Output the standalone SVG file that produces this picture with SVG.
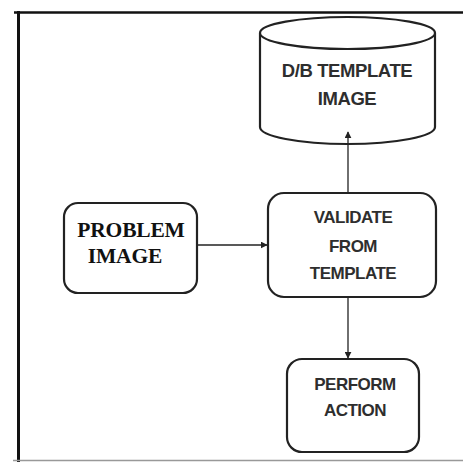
<svg xmlns="http://www.w3.org/2000/svg" width="463" height="462" viewBox="0 0 463 462">
<style>
.box{fill:#fff;stroke:#222;stroke-width:2.2}
.conn{stroke:#222;stroke-width:1.3;fill:none}
.sans{font-family:"Liberation Sans",Arial,sans-serif;font-weight:bold;font-size:17px;fill:#2e2e2e;text-anchor:middle;letter-spacing:-0.5px}
.serif{font-family:"Liberation Serif","Times New Roman",serif;font-weight:bold;font-size:21.5px;fill:#111;text-anchor:middle;letter-spacing:-0.2px}
</style>
<defs>
<marker id="ah" viewBox="0 0 10 10" refX="9" refY="5" markerWidth="7" markerHeight="7" markerUnits="userSpaceOnUse" orient="auto">
<path d="M0,0 L10,5 L0,10 z" fill="#222"/>
</marker>
</defs>
<rect width="463" height="462" fill="#fff"/>
<g id="frame">
<line x1="14" y1="12.5" x2="463" y2="12.5" stroke="#111" stroke-width="2.6"/>
<line x1="18.5" y1="11" x2="18.5" y2="462" stroke="#111" stroke-width="3"/>
<line x1="13" y1="460.5" x2="463" y2="460.5" stroke="#999" stroke-width="1.5"/>
</g>
<g id="db">
<path class="box" d="M260,33 L260,127 A87.5,17 0 0 0 435,127 L435,33 A87.5,16 0 0 0 260,33 A87.5,16 0 0 0 435,33"/>
<text class="sans" x="347" y="77" style="font-size:18.5px;letter-spacing:-0.4px">D/B TEMPLATE</text>
<text class="sans" x="347" y="105" style="font-size:18.5px;letter-spacing:-0.4px">IMAGE</text>
</g>
<g id="problem">
<rect class="box" x="64" y="203" width="133" height="90" rx="14"/>
<text class="serif" x="131" y="237">PROBLEM</text>
<text class="serif" x="125" y="263">IMAGE</text>
</g>
<g id="validate">
<rect class="box" x="268" y="193" width="168" height="104" rx="16"/>
<text class="sans" x="353" y="223">VALIDATE</text>
<text class="sans" x="353" y="252">FROM</text>
<text class="sans" x="353" y="279">TEMPLATE</text>
</g>
<g id="perform">
<rect class="box" x="287" y="359" width="132" height="93" rx="15"/>
<text class="sans" x="355" y="390">PERFORM</text>
<text class="sans" x="355" y="416">ACTION</text>
</g>
<g id="connectors">
<line class="conn" x1="348" y1="192" x2="348" y2="132" marker-end="url(#ah)"/>
<line class="conn" x1="198" y1="245" x2="267" y2="245" marker-end="url(#ah)"/>
<line class="conn" x1="348" y1="298" x2="348" y2="358" marker-end="url(#ah)"/>
</g>
</svg>
